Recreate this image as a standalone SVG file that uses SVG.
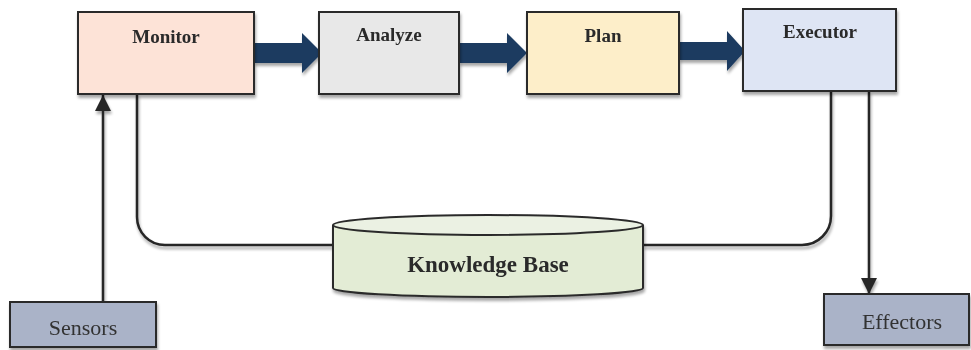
<svg xmlns="http://www.w3.org/2000/svg" width="971" height="350" viewBox="0 0 971 350">
<defs>
<filter id="sh" x="-10%" y="-10%" width="130%" height="140%">
<feGaussianBlur in="SourceAlpha" stdDeviation="1.5"/>
<feOffset dx="1" dy="3" result="b"/>
<feComponentTransfer><feFuncA type="linear" slope="0.35"/></feComponentTransfer>
<feMerge><feMergeNode/><feMergeNode in="SourceGraphic"/></feMerge>
</filter>
<marker id="ah" markerWidth="16" markerHeight="16" viewBox="0 0 16 16" refX="16" refY="8" orient="auto" markerUnits="userSpaceOnUse">
<path d="M0,0 L16,8 L0,16 Z" fill="#262626"/>
</marker>
</defs>
<style>
.box{stroke:#2b2b2b;stroke-width:2}
.t{font-family:"Liberation Serif","Times New Roman",serif;font-weight:bold;font-size:19px;fill:#2b2b2b;text-anchor:middle}
.r{font-family:"Liberation Serif","Times New Roman",serif;font-size:22px;fill:#333;text-anchor:middle}
.ln{fill:none;stroke:#262626;stroke-width:2.5}
.blk{fill:#1b3a60}
</style>
<g id="connectors" filter="url(#sh)">
<path class="ln" d="M137,94 V217 A28,28 0 0 0 165,245 H333"/>
<path class="ln" d="M643,245 H802 A29,29 0 0 0 831,216 V91"/>
<line class="ln" x1="103" y1="302" x2="103" y2="95" marker-end="url(#ah)"/>
<line class="ln" x1="869" y1="91" x2="869" y2="294" marker-end="url(#ah)"/>
<path class="blk" d="M254,43 H302 V33 L322,53 L302,73 V63 H254 Z"/>
<path class="blk" d="M459,43 H507 V33 L527,53 L507,73 V63 H459 Z"/>
<path class="blk" d="M679,42 H727 V31 L745,51 L727,71 V60 H679 Z"/>
</g>
<g id="monitor" filter="url(#sh)">
<rect class="box" x="78" y="12" width="176" height="82" fill="#fde3d7"/>
<text class="t" x="166" y="43">Monitor</text>
</g>
<g id="analyze" filter="url(#sh)">
<rect class="box" x="319" y="12" width="140" height="82" fill="#e8e8e8"/>
<text class="t" x="389" y="41">Analyze</text>
</g>
<g id="plan" filter="url(#sh)">
<rect class="box" x="527" y="12" width="152" height="82" fill="#fdeec9"/>
<text class="t" x="603" y="42">Plan</text>
</g>
<g id="executor" filter="url(#sh)">
<rect class="box" x="743" y="9" width="153" height="82" fill="#dee5f4"/>
<text class="t" x="820" y="38">Executor</text>
</g>
<g id="knowledge-base" filter="url(#sh)">
<path class="box" d="M333,225 V288 A155,9 0 0 0 643,288 V225" fill="#e3ecd5"/>
<ellipse class="box" cx="488" cy="225" rx="155" ry="10" fill="#ebf1e3"/>
<text class="t" x="488" y="272" style="font-size:23px">Knowledge Base</text>
</g>
<g id="sensors" filter="url(#sh)">
<rect class="box" x="10" y="302" width="146" height="45" fill="#aab3c8"/>
<text class="r" x="83" y="335">Sensors</text>
</g>
<g id="effectors" filter="url(#sh)">
<rect class="box" x="824" y="294" width="145" height="51" fill="#aab3c8"/>
<text class="r" x="902" y="329">Effectors</text>
</g>
</svg>
